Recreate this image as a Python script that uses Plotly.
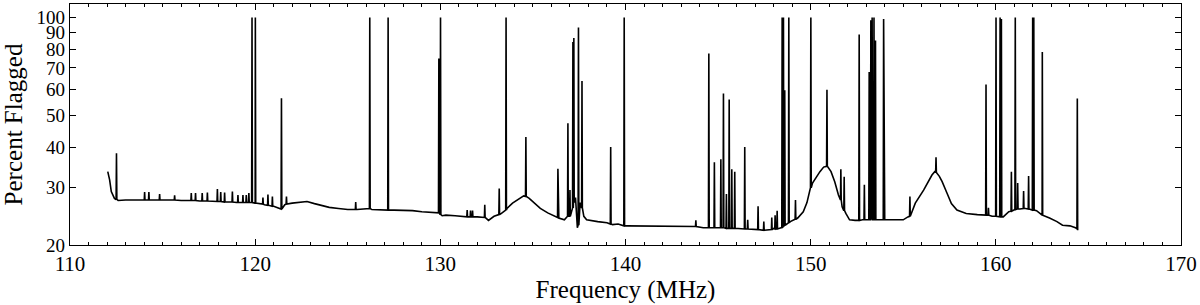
import numpy as np
import plotly.graph_objects as go

# ---- smooth (noise-floor) part of the flagging curve ----
base_freq = [112.04, 112.14, 112.23, 112.40, 112.6, 113.0, 114.0, 115.0, 116.0, 117.0,
             118.0, 119.0, 120.0, 120.5, 121.0, 121.4, 121.6, 122.0, 122.5, 122.8,
             123.2, 123.6, 124.0, 124.5, 125.0, 125.5, 126.0, 126.3, 126.7, 127.5,
             128.0, 128.5, 129.0, 129.7, 130.1, 130.3, 130.8, 131.4, 132.0, 132.6,
             132.9, 133.3, 133.6, 133.9, 134.2, 134.5, 134.8, 135.1, 135.4, 135.8,
             136.1, 136.4, 136.7, 137.3, 137.4, 137.55, 137.75, 137.9, 138.5, 139.0,
             139.3, 139.6, 140.1, 141.0, 142.0, 143.0, 143.6, 144.2, 145.5, 146.5,
             147.5, 148.0, 148.4, 148.9, 149.3, 149.6, 149.8, 149.95, 150.1, 150.3,
             150.5, 150.7, 150.9, 151.1, 151.3, 151.5, 151.7, 151.9, 152.1, 152.4,
             152.8, 153.2, 153.6, 154.0, 154.5, 155.0, 155.25, 155.65, 156.1, 156.55,
             156.7, 156.95, 157.1, 157.36, 157.6, 157.9, 158.4, 159.0, 159.3, 159.8,
             160.4, 160.7, 161.3, 161.6, 162.2, 162.5, 162.9, 163.3, 163.6, 164.0,
             164.3, 164.42]
base_pct = [33.6, 31.7, 29.2, 27.8, 27.4, 27.5, 27.5, 27.5, 27.4, 27.3,
            27.2, 27.0, 26.9, 26.6, 26.3, 25.8, 26.6, 26.9, 27.1, 27.2,
            26.8, 26.4, 26.1, 25.9, 25.7, 25.7, 25.9, 25.7, 25.6, 25.6,
            25.6, 25.5, 25.3, 25.1, 24.6, 24.7, 24.6, 24.4, 24.4, 23.8,
            24.5, 25.0, 25.9, 26.9, 27.6, 28.3, 27.8, 26.8, 25.9, 25.1,
            24.6, 24.2, 23.9, 28.0, 22.6, 27.0, 24.5, 23.9, 23.6, 23.4,
            23.1, 23.2, 22.9, 22.9, 22.9, 22.8, 22.8, 22.6, 22.5, 22.4,
            22.2, 22.5, 22.6, 23.6, 24.2, 25.3, 27.0, 29.5, 31.0, 32.3,
            33.6, 34.7, 34.9, 33.6, 31.3, 28.5, 26.2, 25.0, 23.9, 23.8,
            23.9, 23.9, 23.9, 23.9, 23.9, 23.9, 24.4, 26.9, 29.5, 32.8,
            33.6, 32.5, 31.3, 28.9, 26.8, 25.6, 25.0, 24.8, 24.7, 24.5,
            24.4, 25.3, 25.8, 25.9, 25.5, 24.7, 24.2, 23.6, 23.0, 22.9,
            22.6, 22.2]

# ---- single-channel RFI spikes: frequency, peak value, floor value at the spike ----
spike_freq = [112.51, 114.03, 114.26, 114.84, 115.65, 116.55, 116.78, 117.14, 117.42, 117.96,
              118.14, 118.35, 118.77, 119.07, 119.34, 119.52, 119.66, 119.83, 120.01, 120.42,
              120.69, 120.93, 121.42, 121.69, 125.43, 126.19, 127.18, 129.92, 130.01, 131.45,
              131.63, 131.74, 132.40, 133.18, 133.55, 134.62, 136.35, 136.89, 137.00, 137.16,
              137.21, 137.46, 137.65, 139.20, 139.93, 143.80, 144.50, 144.80, 145.15, 145.29,
              145.45, 145.60, 145.74, 145.90, 146.44, 146.60, 147.16, 147.47, 147.90, 148.08,
              148.19, 148.46, 148.53, 148.60, 148.82, 149.18, 150.01, 150.88, 151.63, 151.81,
              152.62, 152.90, 153.16, 153.25, 153.32, 153.42, 153.50, 153.94, 155.36, 156.77,
              159.47, 159.60, 160.01, 160.23, 160.30, 160.84, 161.05, 161.18, 161.50, 161.77,
              161.99, 162.05, 162.51, 164.40]
spike_peak = [38.3, 29.1, 29.1, 28.7, 28.4, 28.9, 28.9, 28.9, 29.0, 29.7,
              29.1, 29.0, 29.2, 28.5, 28.5, 28.5, 28.9, 100.0, 100.0, 28.0,
              28.6, 28.2, 56.5, 28.2, 27.1, 100.0, 100.0, 74.8, 100.0, 25.6,
              25.5, 25.5, 26.6, 29.8, 100.0, 42.9, 34.3, 47.3, 29.5, 84.1,
              86.5, 93.1, 63.8, 40.0, 100.0, 23.8, 77.5, 35.9, 36.7, 58.4,
              28.7, 56.0, 34.2, 33.6, 40.0, 23.9, 26.3, 23.6, 24.3, 24.7,
              25.5, 100.0, 100.0, 59.8, 100.0, 27.5, 100.0, 60.0, 34.2, 32.4,
              88.7, 30.6, 68.0, 98.0, 100.0, 100.0, 85.0, 99.0, 28.2, 37.2,
              62.2, 26.0, 100.0, 100.0, 99.0, 33.6, 100.0, 31.0, 29.3, 32.6,
              100.0, 100.0, 78.3, 56.4]
spike_floor = [27.6, 27.5, 27.5, 27.5, 27.5, 27.4, 27.4, 27.3, 27.3, 27.2,
               27.2, 27.1, 27.1, 27.0, 27.0, 27.0, 27.0, 27.0, 26.9, 26.7,
               26.5, 26.3, 25.8, 26.7, 25.7, 25.9, 25.6, 25.1, 24.8, 24.4,
               24.4, 24.4, 24.3, 24.8, 25.6, 28.2, 24.3, 24.5, 24.5, 26.0,
               27.0, 23.0, 26.0, 23.2, 22.9, 22.8, 22.6, 22.6, 22.6, 22.6,
               22.5, 22.5, 22.5, 22.5, 22.4, 22.4, 22.3, 22.2, 22.3, 22.4,
               22.4, 22.6, 22.8, 23.0, 23.4, 24.0, 30.0, 34.9, 27.5, 25.5,
               23.8, 23.9, 23.9, 23.9, 23.9, 23.9, 23.9, 23.9, 24.5, 33.4,
               24.7, 24.7, 24.5, 24.4, 24.4, 25.4, 25.7, 25.8, 25.9, 25.8,
               25.6, 25.6, 24.7, 22.4]

x_ticks = [110, 120, 130, 140, 150, 160, 170]
y_ticks = [20, 30, 40, 50, 60, 70, 80, 90, 100]
y_ticktext = [str(v) for v in y_ticks]

# ---- merge floor + spikes into one channel-ordered curve ----
half_w = 0.02  # half-width of one flagged channel (MHz)
pts = list(zip(base_freq, base_pct))
for f, p, b in zip(spike_freq, spike_peak, spike_floor):
    pts += [(f - half_w, b), (f, p), (f + half_w, b)]
pts.sort(key=lambda t: t[0])
xs = [t[0] for t in pts]
ys = [t[1] for t in pts]

fig = go.Figure()
fig.add_trace(go.Scatter(x=xs, y=ys, mode="lines",
                         line=dict(color="black", width=1.6),
                         hoverinfo="skip", showlegend=False))

FONT = "Liberation Serif"
fig.update_layout(
    width=1200, height=305,
    margin=dict(l=70, r=19, t=4, b=60, autoexpand=False),
    paper_bgcolor="white", plot_bgcolor="white",
    font=dict(family=FONT, size=21, color="black"),
    showlegend=False,
)
fig.update_xaxes(
    range=[110, 170], tickvals=x_ticks, ticktext=[str(v) for v in x_ticks],
    ticks="inside", ticklen=6, tickwidth=1.2, tickcolor="black",
    showline=True, linecolor="black", linewidth=1.4, mirror="allticks",
    showgrid=False, zeroline=False, automargin=False,
    minor=dict(tickvals=list(range(110, 171)), ticks="inside", ticklen=3,
               tickwidth=1, tickcolor="black", showgrid=False),
    tickfont=dict(family=FONT, size=21),
    title=dict(text="Frequency (MHz)", font=dict(family=FONT, size=25), standoff=4),
)
fig.update_yaxes(
    type="log", range=[np.log10(20), np.log10(110)],
    tickvals=y_ticks, ticktext=y_ticktext,
    ticks="inside", ticklen=6, tickwidth=1.2, tickcolor="black",
    showline=True, linecolor="black", linewidth=1.4, mirror="allticks",
    showgrid=False, zeroline=False, automargin=False,
    tickfont=dict(family=FONT, size=19),
    title=dict(text="Percent Flagged", font=dict(family=FONT, size=25), standoff=6),
)

fig.write_html(
    "out.html",
    config={"displayModeBar": False},
    post_script="document.body.style.margin='0';document.body.style.overflow='hidden';",
)
